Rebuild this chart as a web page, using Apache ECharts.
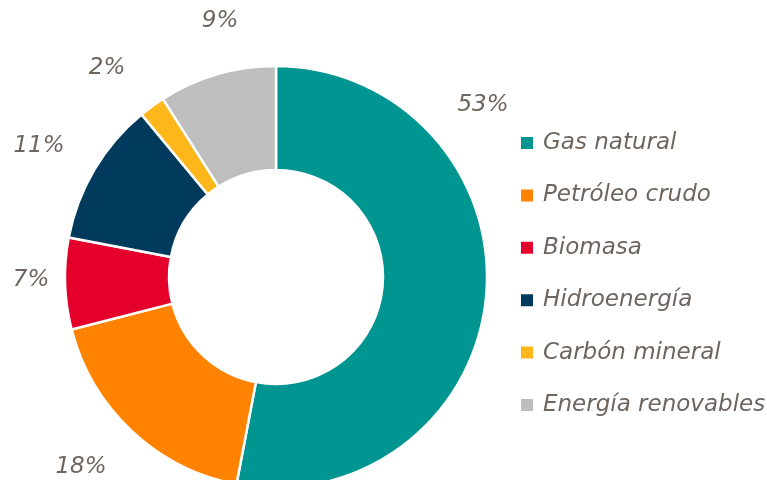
<!DOCTYPE html>
<html>
<head>
<meta charset="utf-8">
<script src="https://cdn.jsdelivr.net/npm/echarts@6/dist/echarts.min.js"></script>
<style>
  html, body { margin: 0; padding: 0; background: #fff; }
  #chart { width: 767px; height: 480px; }
</style>
</head>
<body>
<div id="chart"></div>
<script>
// datos
const categories = ['Gas natural', 'Petróleo crudo', 'Biomasa', 'Hidroenergía', 'Carbón mineral', 'Energía renovables']
const values = [53, 18, 7, 11, 2, 9]
const colors = ['#009591', '#FF8300', '#E4002B', '#003A5D', '#FDB71A', '#BEBEBE']

const textColor = '#6E655E'
// sitio de cada etiqueta (como en el original, colocadas a mano)
const labelSpots = [[483, 105], [81, 467], [31, 280], [39, 146], [107, 68], [220, 21]]

const chart = echarts.init(document.getElementById('chart'))

chart.setOption({
  color: colors,
  legend: {
    orient: 'vertical',
    left: 514,
    top: 126,
    icon: 'rect',
    itemWidth: 14,
    itemHeight: 14,
    itemGap: 28.4,
    textStyle: {
      color: textColor,
      fontFamily: 'DejaVu Sans',
      fontStyle: 'italic',
      fontSize: 23,
      lineHeight: 24,
      padding: [0, 0, 0, 4]
    },
    data: categories
  },
  series: [
    {
      type: 'pie',
      center: [276, 277],
      radius: [107, 211],
      startAngle: 90,
      clockwise: true,
      animation: false,
      itemStyle: {
        borderColor: '#fff',
        borderWidth: 2.5
      },
      label: {
        show: true,
        position: 'outside',
        formatter: '{c}%',
        color: textColor,
        fontFamily: 'DejaVu Sans',
        fontStyle: 'italic',
        fontSize: 23,
        overflow: 'none',
        width: 80
      },
      labelLine: {
        show: false
      },
      labelLayout: function(params) {
        const p = labelSpots[params.dataIndex]
        return { x: p[0], y: p[1], align: 'center', verticalAlign: 'middle' }
      },
      data: categories.map((name, i) => ({ name: name, value: values[i] }))
    }
  ]
})
</script>
</body>
</html>
